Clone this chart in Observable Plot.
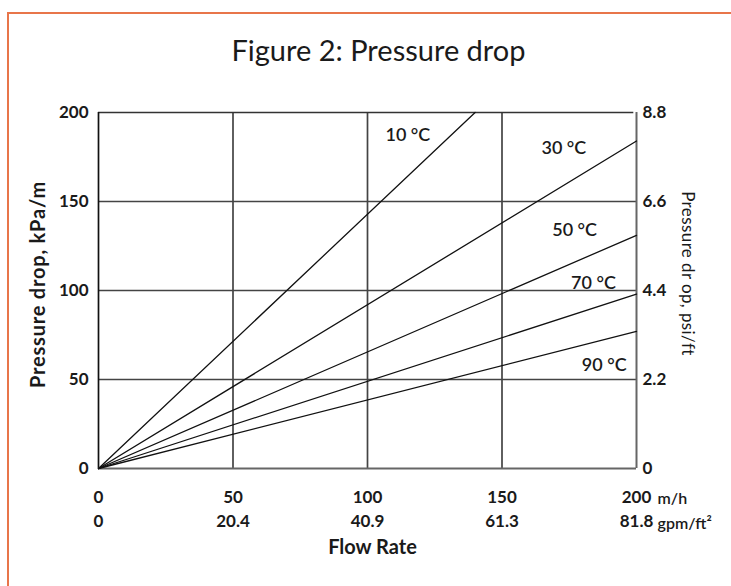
<!DOCTYPE html>
<html>
<head>
<meta charset="utf-8">
<script src="https://cdn.jsdelivr.net/npm/d3@7"></script>
<script src="https://cdn.jsdelivr.net/npm/@observablehq/plot@0.6"></script>
<style>
  html, body { margin: 0; padding: 0; background: #fff; overflow: hidden; }
  #frame { position: absolute; left: 7px; top: 12px; width: 900px; height: 800px; border: 2px solid #e8754a; box-sizing: border-box; }
  #chart { position: absolute; left: 0; top: 0; }
</style>
</head>
<body>
<div id="frame"></div>
<div id="chart"></div>
<script>
// Data
const flowTicks = [0, 50, 100, 150, 200];
const flowLabels = ["0", "50", "100", "150", "200"];
const gpmLabels = ["0", "20.4", "40.9", "61.3", "81.8"];
const dropTicks = [0, 50, 100, 150, 200];
const kpaLabels = ["0", "50", "100", "150", "200"];
const psiLabels = ["0", "2.2", "4.4", "6.6", "8.8"];
const temps = ["10 °C", "30 °C", "50 °C", "70 °C", "90 °C"];
const endFlow = [140, 200, 200, 200, 200];
const endDrop = [200, 184, 131, 98, 77];
const labelFlow = [115, 173, 177, 184, 188];
const labelDrop = [187, 180, 134, 104, 58];

const lineData = temps.flatMap((t, i) => [
  {t, flow: 0, drop: 0},
  {t, flow: endFlow[i], drop: endDrop[i]}
]);
const labelData = temps.map((t, i) => ({t, flow: labelFlow[i], drop: labelDrop[i]}));

const font = "Lato, 'Open Sans', sans-serif";
const grid = "#444";

const chart = Plot.plot({
  width: 731,
  height: 586,
  marginLeft: 98,
  marginRight: 95,
  marginTop: 112,
  marginBottom: 118,
  style: {fontFamily: font, color: "#1a1a1a", background: "transparent", overflow: "visible"},
  x: {domain: [0, 200]},
  y: {domain: [0, 200]},
  marks: [
    Plot.ruleX([50, 100, 150], {stroke: grid, strokeWidth: 1.7}),
    Plot.ruleY([50, 100, 150], {stroke: grid, strokeWidth: 1.7}),
    Plot.ruleY([200], {x1: 0, x2: 199, stroke: "#333", strokeWidth: 1.7}),
    Plot.ruleX([0], {stroke: "#111", strokeWidth: 1.7}),
    Plot.ruleX([200], {stroke: "#666", strokeWidth: 2}),
    Plot.ruleY([0], {stroke: "#666", strokeWidth: 2}),
    Plot.line(lineData, {x: "flow", y: "drop", z: "t", stroke: "#111", strokeWidth: 1.3}),
    Plot.text(labelData, {x: "flow", y: "drop", text: "t", fontSize: 18, fontWeight: 600, fill: "#1a1a1a"}),
    Plot.axisY({anchor: "left", ticks: dropTicks, tickFormat: (d, i) => kpaLabels[i], tickSize: 0, tickPadding: 10, fontSize: 17, fontWeight: "bold", label: null}),
    Plot.axisY({anchor: "right", ticks: dropTicks, tickFormat: (d, i) => psiLabels[i], tickSize: 0, tickPadding: 6, fontSize: 17, fontWeight: "bold", label: null}),
    Plot.axisX({anchor: "bottom", ticks: flowTicks, tickFormat: (d, i) => flowLabels[i], tickSize: 0, tickPadding: 22, fontSize: 17, fontWeight: "bold", label: null}),
    Plot.axisX({anchor: "bottom", ticks: flowTicks, tickFormat: (d, i) => gpmLabels[i], tickSize: 0, tickPadding: 46, fontSize: 17, fontWeight: "bold", label: null}),
    Plot.text(["m/h"], {x: 200, y: 0, text: d => d, dx: 21, dy: 30, textAnchor: "start", fontSize: 16, fontWeight: 600}),
    Plot.text(["gpm/ft²"], {x: 200, y: 0, text: d => d, dx: 21, dy: 55, textAnchor: "start", fontSize: 16, fontWeight: 600}),
    Plot.text(["Pressure drop, kPa/m"], {frameAnchor: "left", textAnchor: "middle", text: d => d, dx: -60, dy: -6, rotate: -90, fontSize: 20, fontWeight: "bold"}),
    Plot.text(["Pressure dr op, psi/ft"], {frameAnchor: "right", textAnchor: "middle", text: d => d, dx: 51, dy: -17, rotate: 90, fontSize: 17}),
    Plot.text(["Flow Rate"], {frameAnchor: "bottom", textAnchor: "middle", text: d => d, dx: 5, dy: 85, fontSize: 20, fontWeight: "bold"}),
    Plot.text(["Figure 2: Pressure drop"], {frameAnchor: "top", textAnchor: "middle", text: d => d, dx: 11, dy: -72, fontSize: 29})
  ]
});
d3.select(chart).selectAll("text")
  .filter(function() { return this.textContent === "Pressure drop, kPa/m"; })
  .attr("letter-spacing", "0.8px");
d3.select(chart).selectAll("text")
  .filter(function() { return this.textContent === "Pressure dr op, psi/ft"; })
  .attr("letter-spacing", "0.4px");
document.getElementById("chart").appendChild(chart);
</script>
</body>
</html>
